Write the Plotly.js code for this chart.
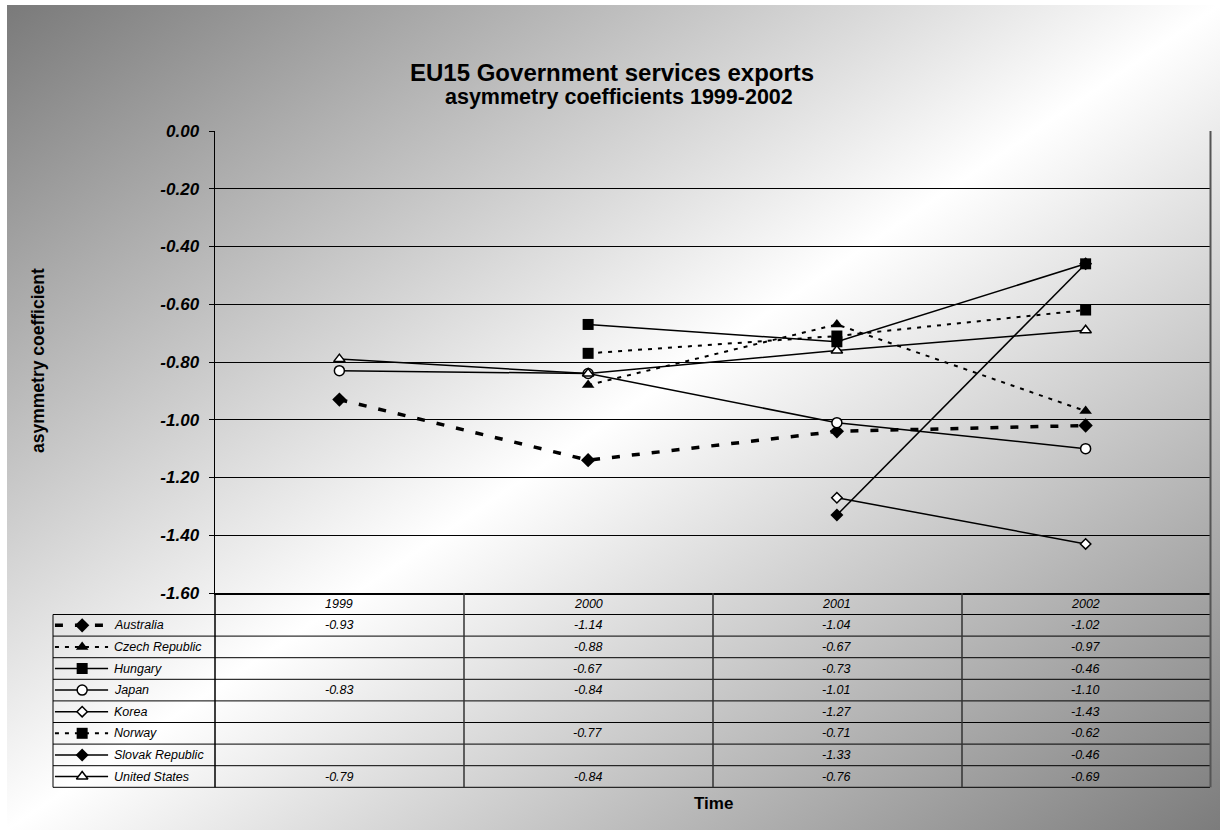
<!DOCTYPE html>
<html>
<head>
<meta charset="utf-8">
<script src="https://cdn.plot.ly/plotly-3.0.1.min.js"></script>
<style>
  html, body { margin: 0; padding: 0; background: #ffffff; }
  #wrap { position: relative; width: 1224px; height: 830px; }
  #bg { position: absolute; left: 7px; top: 5px; width: 1213px; height: 825px;
        background: linear-gradient(to bottom right, #7a7a7a 0%, #ffffff 50%, #7c7c7c 100%); }
  #chart { position: absolute; left: 0; top: 0; width: 1224px; height: 830px; }
</style>
</head>
<body>
<div id="wrap"><div id="bg"></div><div id="chart"></div></div>
<script>
// ---- data ----
const titleLines = ['EU15 Government services exports', ' asymmetry coefficients 1999-2002'];
const years = ['1999', '2000', '2001', '2002'];
const countries = ['Australia', 'Czech Republic', 'Hungary', 'Japan', 'Korea', 'Norway', 'Slovak Republic', 'United States'];
const australia      = [-0.93, -1.14, -1.04, -1.02];
const czechRepublic  = [null, -0.88, -0.67, -0.97];
const hungary        = [null, -0.67, -0.73, -0.46];
const japan          = [-0.83, -0.84, -1.01, -1.10];
const korea          = [null, null, -1.27, -1.43];
const norway         = [null, -0.77, -0.71, -0.62];
const slovakRepublic = [null, null, -1.33, -0.46];
const unitedStates   = [-0.79, -0.84, -0.76, -0.69];
const yTicks = [0, -0.2, -0.4, -0.6, -0.8, -1.0, -1.2, -1.4, -1.6];

const seriesValues = [australia, czechRepublic, hungary, japan, korea, norway, slovakRepublic, unitedStates];

// ---- styles ----
const W = 1224, H = 830;
const px = v => v / W;
const py = v => 1 - v / H;
const FONT = 'Arial, Liberation Sans, sans-serif';
const styles = [
  {line: {color: '#000', width: 3.5, dash: '8px,12px'}, marker: {symbol: 'diamond', size: 11, color: '#000'}},
  {line: {color: '#000', width: 2, dash: '4px,6px'}, marker: {symbol: 'triangle-up', size: 11, color: '#000'}},
  {line: {color: '#000', width: 1.5}, marker: {symbol: 'square', size: 11, color: '#000'}},
  {line: {color: '#000', width: 1.5}, marker: {symbol: 'circle', size: 10, color: '#fff', line: {color: '#000', width: 1.5}}},
  {line: {color: '#000', width: 1.5}, marker: {symbol: 'diamond', size: 8, color: '#fff', line: {color: '#000', width: 1.5}}},
  {line: {color: '#000', width: 2, dash: '4px,6px'}, marker: {symbol: 'square', size: 11, color: '#000'}},
  {line: {color: '#000', width: 1.5}, marker: {symbol: 'diamond', size: 10, color: '#000'}},
  {line: {color: '#000', width: 1.5}, marker: {symbol: 'triangle-up', size: 10, color: '#fff', line: {color: '#000', width: 1.5}}}
];

const traces = [];
countries.forEach((c, i) => {
  traces.push({
    type: 'scatter', mode: 'lines+markers', name: c,
    x: years, y: seriesValues[i],
    line: styles[i].line, marker: styles[i].marker,
    cliponaxis: false, showlegend: false, hoverinfo: 'skip'
  });
  // legend key inside the data table
  traces.push({
    type: 'scatter', mode: 'lines', x: [0.012, 0.34], y: [i + 0.5, i + 0.5],
    xaxis: 'x2', yaxis: 'y2', line: styles[i].line, showlegend: false, hoverinfo: 'skip'
  });
  traces.push({
    type: 'scatter', mode: 'markers', x: [0.18], y: [i + 0.5],
    xaxis: 'x2', yaxis: 'y2', marker: styles[i].marker, showlegend: false, hoverinfo: 'skip', cliponaxis: false
  });
});

// ---- table geometry ----
const plotL = 215, plotR = 1210, plotT = 131, plotB = 593;
const tabTop = 614.5, rowH = 21.6, nRows = countries.length;
const tabBot = tabTop + rowH * nRows;
const legL = 53;
const colX = [215, 464, 713, 962, 1210];

const shapes = [];
const lineStyle = {color: '#000', width: 1};
for (let k = 0; k <= nRows; k++) {
  const yy = tabTop + k * rowH;
  shapes.push({type: 'line', xref: 'paper', yref: 'paper', x0: px(legL), x1: px(plotR), y0: py(yy), y1: py(yy), line: lineStyle});
}
shapes.push({type: 'line', xref: 'paper', yref: 'paper', x0: px(legL), x1: px(legL), y0: py(tabTop), y1: py(tabBot), line: lineStyle});
shapes.push({type: 'line', xref: 'paper', yref: 'paper', x0: px(plotL), x1: px(plotL), y0: py(plotB), y1: py(tabBot), line: {color: '#000', width: 1.5}});
[1, 2, 3].forEach(j => {
  shapes.push({type: 'line', xref: 'paper', yref: 'paper', x0: px(colX[j]), x1: px(colX[j]), y0: py(plotB), y1: py(tabBot), line: {color: '#333', width: 1.5}});
});
shapes.push({type: 'line', xref: 'paper', yref: 'paper', x0: px(plotR + 0.5), x1: px(plotR + 0.5), y0: py(plotT), y1: py(tabBot), line: {color: '#555', width: 2}});

const annotations = [];
const tabFont = {family: FONT, size: 12.5, color: '#000', style: 'italic'};
years.forEach((yr, j) => {
  annotations.push({xref: 'x', yref: 'paper', x: j, y: py((plotB + tabTop) / 2), text: yr, showarrow: false,
    xanchor: 'center', yanchor: 'middle', font: tabFont});
});
countries.forEach((c, i) => {
  annotations.push({xref: 'x2', yref: 'y2', x: 0.365, y: i + 0.5, text: c, showarrow: false,
    xanchor: 'left', yanchor: 'middle', font: tabFont});
  seriesValues[i].forEach((v, j) => {
    if (v === null) return;
    annotations.push({xref: 'x', yref: 'y2', x: j, y: i + 0.5, text: v.toFixed(2), showarrow: false,
      xanchor: 'center', yanchor: 'middle', font: tabFont});
  });
});
// chart title (two lines)
annotations.push({xref: 'paper', yref: 'paper', x: px(612), y: py(72), text: titleLines[0],
  showarrow: false, xanchor: 'center', yanchor: 'middle',
  font: {family: FONT, size: 24, color: '#000', weight: 'bold'}});
annotations.push({xref: 'paper', yref: 'paper', x: px(616), y: py(97), text: titleLines[1],
  showarrow: false, xanchor: 'center', yanchor: 'middle',
  font: {family: FONT, size: 21.5, color: '#000', weight: 'bold'}});
annotations.push({xref: 'paper', yref: 'paper', x: px(38), y: py(361), text: 'asymmetry coefficient', textangle: -90,
  showarrow: false, xanchor: 'center', yanchor: 'middle',
  font: {family: FONT, size: 17.5, color: '#000', weight: 'bold'}});
annotations.push({xref: 'paper', yref: 'paper', x: px(713), y: py(803), text: 'Time',
  showarrow: false, xanchor: 'center', yanchor: 'middle',
  font: {family: FONT, size: 17, color: '#000', weight: 'bold'}});

const layout = {
  width: W, height: H,
  margin: {l: 0, r: 0, t: 0, b: 0},
  paper_bgcolor: 'rgba(0,0,0,0)', plot_bgcolor: 'rgba(0,0,0,0)',
  showlegend: false,
  xaxis: {
    domain: [px(plotL), px(plotR)], type: 'category', range: [-0.5, 3.5],
    showgrid: false, zeroline: false, showticklabels: false, ticks: '',
    showline: true, linecolor: '#000', linewidth: 1.5, fixedrange: true
  },
  yaxis: {
    domain: [py(plotB), py(plotT)], range: [-1.6, 0],
    tickvals: yTicks, ticktext: yTicks.map(v => v.toFixed(2)),
    tickfont: {family: FONT, size: 17, color: '#000', weight: 'bold', style: 'italic'},
    ticks: 'outside', ticklen: 5, tickcolor: '#000', tickwidth: 1, ticklabelstandoff: 6,
    showgrid: true, gridcolor: '#000', gridwidth: 1, zeroline: false,
    showline: true, linecolor: '#000', linewidth: 1.5, fixedrange: true
  },
  xaxis2: {domain: [px(legL), px(plotL)], range: [0, 1], visible: false, fixedrange: true, anchor: 'y2'},
  yaxis2: {domain: [py(tabBot), py(tabTop)], range: [nRows, 0], visible: false, fixedrange: true, anchor: 'x2'},
  shapes: shapes,
  annotations: annotations
};

Plotly.newPlot('chart', traces, layout, {displayModeBar: false, staticPlot: true});
</script>
</body>
</html>
